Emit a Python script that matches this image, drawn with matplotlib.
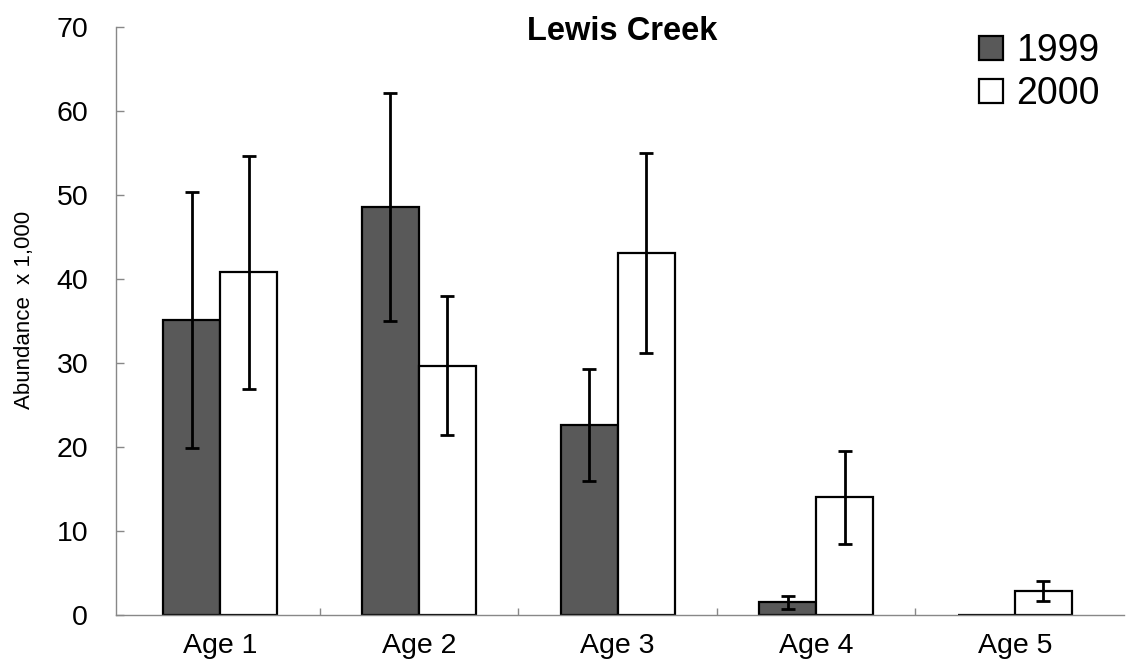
import numpy as np
import matplotlib
matplotlib.use("Agg")
import matplotlib.pyplot as plt

plt.rcParams['font.family'] = ['Liberation Sans', 'DejaVu Sans']

ages = ["Age 1", "Age 2", "Age 3", "Age 4", "Age 5"]
abund_1999 = [35.1, 48.6, 22.6, 1.5, 0.0]
err_1999 = [15.2, 13.6, 6.7, 0.8, 0.0]
abund_2000 = [40.8, 29.7, 43.1, 14.0, 2.9]
err_2000 = [13.9, 8.3, 11.9, 5.5, 1.2]
y_ticks = [0, 10, 20, 30, 40, 50, 60, 70]


def main():
    fig = plt.figure(figsize=(11.26, 6.71), dpi=100)
    ax = fig.add_axes([116 / 1126, 1 - 615 / 671, 1008 / 1126, 588 / 671])

    x = np.arange(len(ages))
    w = 0.287

    ax.bar(x - w / 2, abund_1999, w, color='#595959', edgecolor='black',
           linewidth=1.6, label='1999', zorder=2)
    ax.bar(x + w / 2, abund_2000, w, color='white', edgecolor='black',
           linewidth=1.6, label='2000', zorder=2)

    # no error bar where the bar is zero
    e1 = [v if v > 0 else np.nan for v in err_1999]
    ax.errorbar(x - w / 2, abund_1999, yerr=e1, fmt='none', ecolor='black',
                elinewidth=2, capsize=5, capthick=2, zorder=3)
    ax.errorbar(x + w / 2, abund_2000, yerr=err_2000, fmt='none', ecolor='black',
                elinewidth=2, capsize=5, capthick=2, zorder=3)

    ax.set_xlim(-0.525, 4.55)
    ax.set_ylim(0, 70)
    ax.set_yticks(y_ticks)
    ax.set_xticks(x)
    ax.set_xticklabels(ages)
    ax.set_xticks(x[:-1] + 0.5, minor=True)

    ax.tick_params(axis='y', direction='in', length=6, width=1, color='#888888',
                   labelsize=20.5, pad=20)
    ax.tick_params(axis='x', which='major', length=0, labelsize=20.5, pad=13)
    ax.tick_params(axis='x', which='minor', direction='in', length=5, width=1,
                   color='#888888')

    for side in ['top', 'right']:
        ax.spines[side].set_visible(False)
    for side in ['left', 'bottom']:
        ax.spines[side].set_color('#888888')
        ax.spines[side].set_linewidth(1)

    ax.set_ylabel("Abundance  x 1,000", fontsize=16)
    ax.yaxis.set_label_coords(-0.080, 0.519)
    fig.text(622 / 1126, 1 - 32 / 671, "Lewis Creek", fontsize=23.5,
             fontweight='bold', ha='center', va='center')

    fig.legend(loc='upper right', bbox_to_anchor=(1100 / 1126, 1 - 33 / 671),
               frameon=False, fontsize=27, handlelength=0.65, handleheight=0.6,
               handletextpad=0.35, labelspacing=0.2, borderpad=0, borderaxespad=0)

    fig.savefig("out.png", dpi=100)


if __name__ == "__main__":
    main()
